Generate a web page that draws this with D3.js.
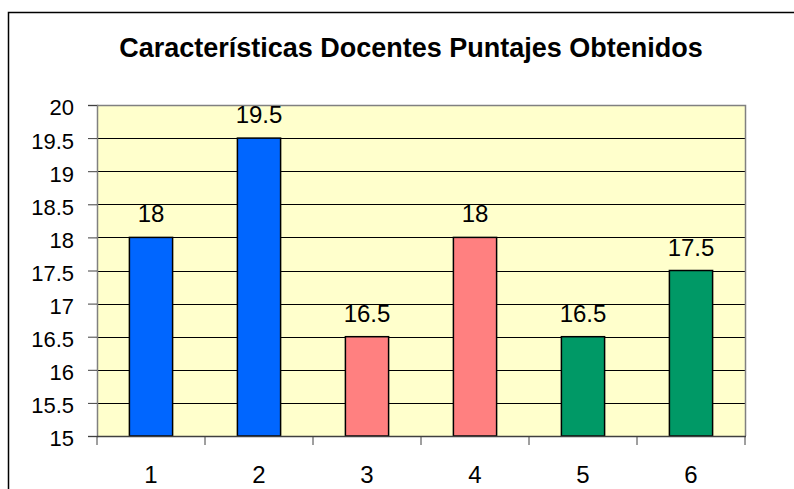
<!DOCTYPE html>
<html><head><meta charset="utf-8">
<script src="https://cdn.jsdelivr.net/npm/d3@7"></script>
<style>body{margin:0;background:#fff}svg{display:block}text{font-family:"Liberation Sans",Arial,sans-serif}</style>
</head><body>
<script>
const categories = ["1","2","3","4","5","6"];
const values = [18, 19.5, 16.5, 18, 16.5, 17.5];
const barColors = ["#0066FF","#0066FF","#FF8080","#FF8080","#009966","#009966"];
const yTicks = [15,15.5,16,16.5,17,17.5,18,18.5,19,19.5,20];
const title = "Características Docentes Puntajes Obtenidos";

const W = 794, H = 489;
const svg = d3.select("body").append("svg").attr("width", W).attr("height", H);
svg.append("rect").attr("x",8.5).attr("y",12.5).attr("width",W).attr("height",H)
  .attr("fill","#fff").attr("stroke","#000").attr("stroke-width",1.5);

const L=97, R=745, T=105, B=436;
const x = d3.scaleBand().domain(categories).range([L,R]).paddingInner(0.6).paddingOuter(0.3);
const y = d3.scaleLinear().domain([15,20]).range([B,T]);

svg.append("rect").attr("x",L).attr("y",T).attr("width",R-L).attr("height",B-T).attr("fill","#FFFFCC");

// gridlines
svg.append("g").selectAll("line").data(yTicks.slice(1)).join("line")
  .attr("x1",L).attr("x2",R).attr("y1",d=>Math.round(y(d))+0.5).attr("y2",d=>Math.round(y(d))+0.5)
  .attr("stroke","#000").attr("stroke-width",1);
// plot border top/right
svg.append("path").attr("d",`M${L},${T+0.5}H${R+0.5}V${B}`).attr("fill","none").attr("stroke","#808080").attr("stroke-width",1.5);

// bars
svg.append("g").selectAll("rect").data(values).join("rect")
  .attr("x",(d,i)=>x(categories[i])).attr("width",x.bandwidth())
  .attr("y",d=>y(d)).attr("height",d=>B-y(d))
  .attr("fill",(d,i)=>barColors[i]).attr("stroke","#000").attr("stroke-width",1.5);

// y axis
const yAxis = d3.axisLeft(y).tickValues(yTicks).tickSize(9).tickPadding(14).tickFormat(d=>String(d));
const gy = svg.append("g").attr("transform",`translate(${L},0)`).call(yAxis);
gy.select(".domain").attr("stroke","#808080").attr("stroke-width",1.5);
gy.selectAll(".tick line").attr("stroke","#404040");
gy.selectAll(".tick text").attr("font-size",22).attr("fill","#000").attr("dy","0.45em")
  .attr("font-family","'Liberation Sans',Arial,sans-serif");

// x axis
const step = x.step();
const bounds = d3.range(categories.length+1).map(i=>x(categories[0]) - step*0.3 + i*step);
svg.append("line").attr("x1",L).attr("x2",R+1).attr("y1",B+0.5).attr("y2",B+0.5).attr("stroke","#404040").attr("stroke-width",1.5);
svg.append("g").selectAll("line").data(bounds).join("line")
  .attr("x1",d=>d).attr("x2",d=>d).attr("y1",B).attr("y2",B+9).attr("stroke","#404040").attr("stroke-width",1);
svg.append("g").selectAll("text").data(categories).join("text")
  .attr("x",d=>x(d)+x.bandwidth()/2).attr("y",483).attr("text-anchor","middle")
  .attr("font-size",24).text(d=>d);

// data labels
svg.append("g").selectAll("text").data(values).join("text")
  .attr("x",(d,i)=>x(categories[i])+x.bandwidth()/2).attr("y",d=>y(d)-15)
  .attr("text-anchor","middle").attr("font-size",24).text(d=>String(d));

// title
svg.append("text").attr("x",411).attr("y",57).attr("text-anchor","middle")
  .attr("font-size",27).attr("font-weight","bold").text(title);
</script>
</body></html>
